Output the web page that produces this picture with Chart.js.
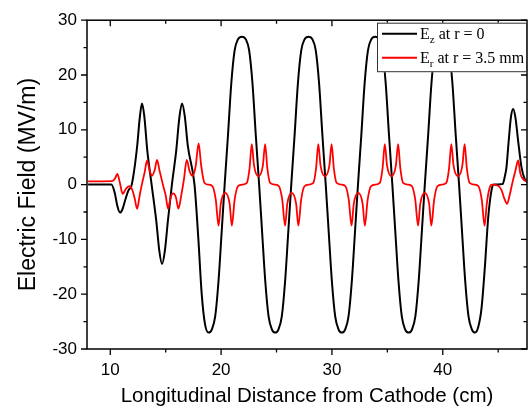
<!DOCTYPE html>
<html>
<head>
<meta charset="utf-8">
<script src="https://cdn.jsdelivr.net/npm/chart.js"></script>
<style>
  body { margin: 0; background: #fff; }
  #wrap { width: 530px; height: 407px; }
</style>
</head>
<body>
<div id="wrap"><canvas id="campo" width="530" height="407"></canvas></div>
<script>
// Ez at r = 0 (black)
var ezX = [8, 10.1, 10.4, 10.65, 10.88, 11.1, 11.35, 11.65, 11.9, 12.15, 12.45, 12.65, 12.86, 13.07, 13.34, 13.73,
  14.15, 14.42, 14.67, 14.93, 15.2, 15.56, 15.95, 16.22, 16.47, 16.72, 17.0, 17.6, 17.95, 18.25, 18.55, 18.87,
  19.17, 19.47, 19.77, 20.07, 20.32, 20.62, 20.92, 21.22, 21.52, 21.88, 22.23, 22.53, 22.83, 23.13, 23.43, 23.68, 23.98, 24.28, 24.58, 24.88,
  25.18, 25.48, 25.78, 26.08, 26.33, 26.63, 26.93, 27.23, 27.53, 27.89, 28.24, 28.54, 28.84, 29.14, 29.44, 29.69, 29.99, 30.29, 30.59, 30.9,
  31.2, 31.5, 31.8, 32.1, 32.35, 32.65, 32.95, 33.25, 33.55, 33.9, 34.25, 34.55, 34.85, 35.15, 35.45, 35.7, 36.0, 36.3, 36.6, 36.93,
  37.23, 37.53, 37.83, 38.13, 38.38, 38.68, 38.98, 39.28, 39.58, 39.92, 40.27, 40.57, 40.87, 41.17, 41.47, 41.72, 42.02, 42.32, 42.62, 42.92,
  43.2, 43.5, 43.8, 44.1, 44.4, 44.6, 45.4, 45.6, 45.75, 45.95, 46.15, 46.35, 46.55, 46.8, 47.1, 47.4, 47.7];
var ezY = [0, 0, -1.5, -4, -5.1, -4.5, -2.8, -1, -0.3, 2.5, 7.5, 12, 14.8, 12.5, 6.2, 0,
  -6.6, -12, -14.5, -12, -6.6, 0, 6.2, 12, 14.8, 12.5, 7, 0, -10, -20, -25.5, -27,
  -26.4, -24, -17.5, -8, 0, 9, 18.5, 24.5, 26.5, 27, 26.5, 24.5, 18.5, 9, 0, -8, -17.5, -24, -26.4, -27,
  -26.4, -24, -17.5, -8, 0, 9, 18.5, 24.5, 26.5, 27, 26.5, 24.5, 18.5, 9, 0, -8, -17.5, -24, -26.4, -27,
  -26.4, -24, -17.5, -8, 0, 9, 18.5, 24.5, 26.5, 27, 26.5, 24.5, 18.5, 9, 0, -8, -17.5, -24, -26.4, -27,
  -26.4, -24, -17.5, -8, 0, 9, 18.5, 24.5, 26.5, 27, 26.5, 24.5, 18.5, 9, 0, -8, -17.5, -24, -26.4, -27,
  -26, -22.5, -15, -6, -1, 0, 0.1, 1.5, 3.2, 8, 12.3, 13.8, 12.3, 8, 3.2, 1, 0.4];

// Er at r = 3.5 mm (red)
var erX = [8, 10.2, 10.45, 10.64, 10.85, 11.12, 11.4, 11.7, 11.95, 12.2, 12.42, 12.65, 12.9, 13.1, 13.32, 13.55, 13.76, 14.0, 14.22, 14.45,
  14.75, 15.0, 15.22, 15.45, 15.68, 15.92, 16.15, 16.4, 16.65, 16.9, 17.15, 17.42, 17.7, 17.97, 18.2, 18.5,
  18.87, 19.22, 19.52, 19.77, 19.97, 20.37, 20.77, 20.97, 21.22, 21.52, 21.92, 22.32, 22.57, 22.77, 22.97, 23.37, 23.77, 23.97, 24.17, 24.42,
  24.87, 25.22, 25.52, 25.77, 25.97, 26.37, 26.77, 26.97, 27.22, 27.52, 27.92, 28.32, 28.57, 28.77, 28.97, 29.37, 29.77, 29.97, 30.17, 30.42,
  30.87, 31.22, 31.52, 31.77, 31.97, 32.37, 32.77, 32.97, 33.22, 33.52, 33.92, 34.32, 34.57, 34.77, 34.97, 35.37, 35.77, 35.97, 36.17, 36.42,
  36.87, 37.22, 37.52, 37.77, 37.97, 38.37, 38.77, 38.97, 39.22, 39.52, 39.92, 40.32, 40.57, 40.77, 40.97, 41.37, 41.77, 41.97, 42.17, 42.42,
  42.87, 43.22, 43.52, 43.77, 43.97, 44.2, 44.4, 45.0, 45.3, 45.55, 45.8, 46.05, 46.3, 46.55, 46.8, 47.0, 47.25, 47.5, 47.7];
var erY = [0.6, 0.65, 1.2, 1.95, 0.5, -1.7, -0.8, -0.3, -0.8, -2.5, -4.4, -2, 0.5, 2.2, 4.4, 2.6, 1.6, 2.6, 4.5, 2.5,
  0, -2, -4.4, -2.3, -1.6, -2.3, -4.4, -2, 1, 4.5, 2.5, 1.6, 3.3, 7.5, 3.5, 0.3,
  0, -0.3, -2.8, -7.5, -3.5, -1.5, -3.5, -7.5, -2.8, -0.3, 0, 0.3, 3, 7.4, 3.5, 1.5, 3.5, 7.4, 3, 0.3,
  0, -0.3, -2.8, -7.5, -3.5, -1.5, -3.5, -7.5, -2.8, -0.3, 0, 0.3, 3, 7.4, 3.5, 1.5, 3.5, 7.4, 3, 0.3,
  0, -0.3, -2.8, -7.5, -3.5, -1.5, -3.5, -7.5, -2.8, -0.3, 0, 0.3, 3, 7.4, 3.5, 1.5, 3.5, 7.4, 3, 0.3,
  0, -0.3, -2.8, -7.5, -3.5, -1.5, -3.5, -7.5, -2.8, -0.3, 0, 0.3, 3, 7.4, 3.5, 1.5, 3.5, 7.4, 3, 0.3,
  0, -0.3, -2.8, -7.5, -3.5, -0.8, 0, -0.2, -1, -2.5, -3.5, -1.8, 0.5, 2.5, 4.4, 2, 1, 0.7, 0.7];

var xMin = 7.9, xMax = 47.6
var yMin = -30, yMax = 30

function pares(xs, ys) {
  return xs.map(function (v, i) { return {x: v, y: ys[i]} })
}

// frame, ticks all around and the boxed legend
var moldura = {
  id: 'moldura',
  afterDatasetsDraw: function (chart) {
    var ctx = chart.ctx, a = chart.chartArea
    var sx = chart.scales.x, sy = chart.scales.y
    ctx.save()
    ctx.strokeStyle = '#000'
    ctx.lineWidth = 1.5
    ctx.strokeRect(a.left, a.top, a.right - a.left, a.bottom - a.top)
    ctx.lineWidth = 1.3
    ctx.beginPath()
    sx.ticks.forEach(function (t) {
      var px = sx.getPixelForValue(t.value)
      var len = t.value % 10 === 0 ? 6 : 3.5
      ctx.moveTo(px, a.bottom); ctx.lineTo(px, a.bottom + len)
      ctx.moveTo(px, a.top); ctx.lineTo(px, a.top + len)
    })
    sy.ticks.forEach(function (t) {
      var py = sy.getPixelForValue(t.value)
      var len = t.value % 10 === 0 ? 6 : 3.5
      ctx.moveTo(a.left, py); ctx.lineTo(a.left - len, py)
      ctx.moveTo(a.right, py); ctx.lineTo(a.right - len, py)
    })
    ctx.stroke()

    // legend
    var bx = a.right - 150, by = a.top + 2.5, bw = 150, bh = 49.5
    ctx.fillStyle = '#fff'
    ctx.fillRect(bx, by, bw, bh)
    ctx.strokeStyle = '#333'
    ctx.lineWidth = 1
    ctx.strokeRect(bx + 0.5, by + 0.5, bw - 1, bh - 1)
    var itens = [
      {cor: '#000000', sub: 'z', resto: ' at r = 0', y: by + 11},
      {cor: '#ff0000', sub: 'r', resto: ' at r = 3.5 mm', y: by + 35}
    ]
    itens.forEach(function (it) {
      ctx.strokeStyle = it.cor
      ctx.lineWidth = 2
      ctx.beginPath()
      ctx.moveTo(bx + 5, it.y)
      ctx.lineTo(bx + 40, it.y)
      ctx.stroke()
      var tx = bx + 43, base = it.y + 5
      ctx.fillStyle = '#000'
      ctx.textBaseline = 'alphabetic'
      ctx.textAlign = 'left'
      ctx.font = '16px "Liberation Serif"'
      ctx.fillText('E', tx, base)
      tx += ctx.measureText('E').width
      ctx.font = '11px "Liberation Serif"'
      ctx.fillText(it.sub, tx, base + 4)
      tx += ctx.measureText(it.sub).width
      ctx.font = '16px "Liberation Serif"'
      ctx.fillText(it.resto, tx, base)
    })
    ctx.restore()
  }
}

var grafico = new Chart(document.getElementById('campo'), {
  type: 'line',
  data: {
    datasets: [
      {
        label: 'Ez at r = 0',
        data: pares(ezX, ezY),
        borderColor: '#000000',
        borderWidth: 2,
        pointRadius: 0,
        cubicInterpolationMode: 'monotone',
        order: 1
      },
      {
        label: 'Er at r = 3.5 mm',
        data: pares(erX, erY),
        borderColor: '#ff0000',
        borderWidth: 1.8,
        pointRadius: 0,
        cubicInterpolationMode: 'monotone',
        order: 0
      }
    ]
  },
  options: {
    responsive: false,
    animation: false,
    devicePixelRatio: 1,
    layout: { padding: { left: 0, right: 3, top: 20, bottom: 0 } },
    plugins: { legend: { display: false }, tooltip: { enabled: false } },
    scales: {
      x: {
        type: 'linear',
        min: xMin,
        max: xMax,
        grid: { display: false, drawTicks: false },
        border: { display: false },
        ticks: {
          stepSize: 5,
          includeBounds: false,
          autoSkip: false,
          maxRotation: 0,
          padding: 11,
          color: '#000',
          font: { family: '"Liberation Sans", Arial', size: 17 },
          callback: function (v) { return v % 10 === 0 ? v : '' }
        },
        title: {
          display: true,
          text: 'Longitudinal Distance from Cathode (cm)',
          color: '#000',
          font: { family: '"Liberation Sans", Arial', size: 20.5, lineHeight: 1 },
          padding: 0
        },
        afterFit: function (scale) { scale.height = 58 }
      },
      y: {
        min: yMin,
        max: yMax,
        grid: { display: false, drawTicks: false },
        border: { display: false },
        ticks: {
          stepSize: 5,
          includeBounds: false,
          autoSkip: false,
          padding: 10,
          color: '#000',
          font: { family: '"Liberation Sans", Arial', size: 17 },
          callback: function (v) { return v % 10 === 0 ? v : '' }
        },
        title: {
          display: true,
          text: 'Electric Field (MV/m)',
          color: '#000',
          font: { family: '"Liberation Sans", Arial', size: 23 },
          padding: { top: 15, bottom: 0 }
        },
        afterFit: function (scale) { scale.width = 87 }
      }
    }
  },
  plugins: [moldura]
});
</script>
</body>
</html>
